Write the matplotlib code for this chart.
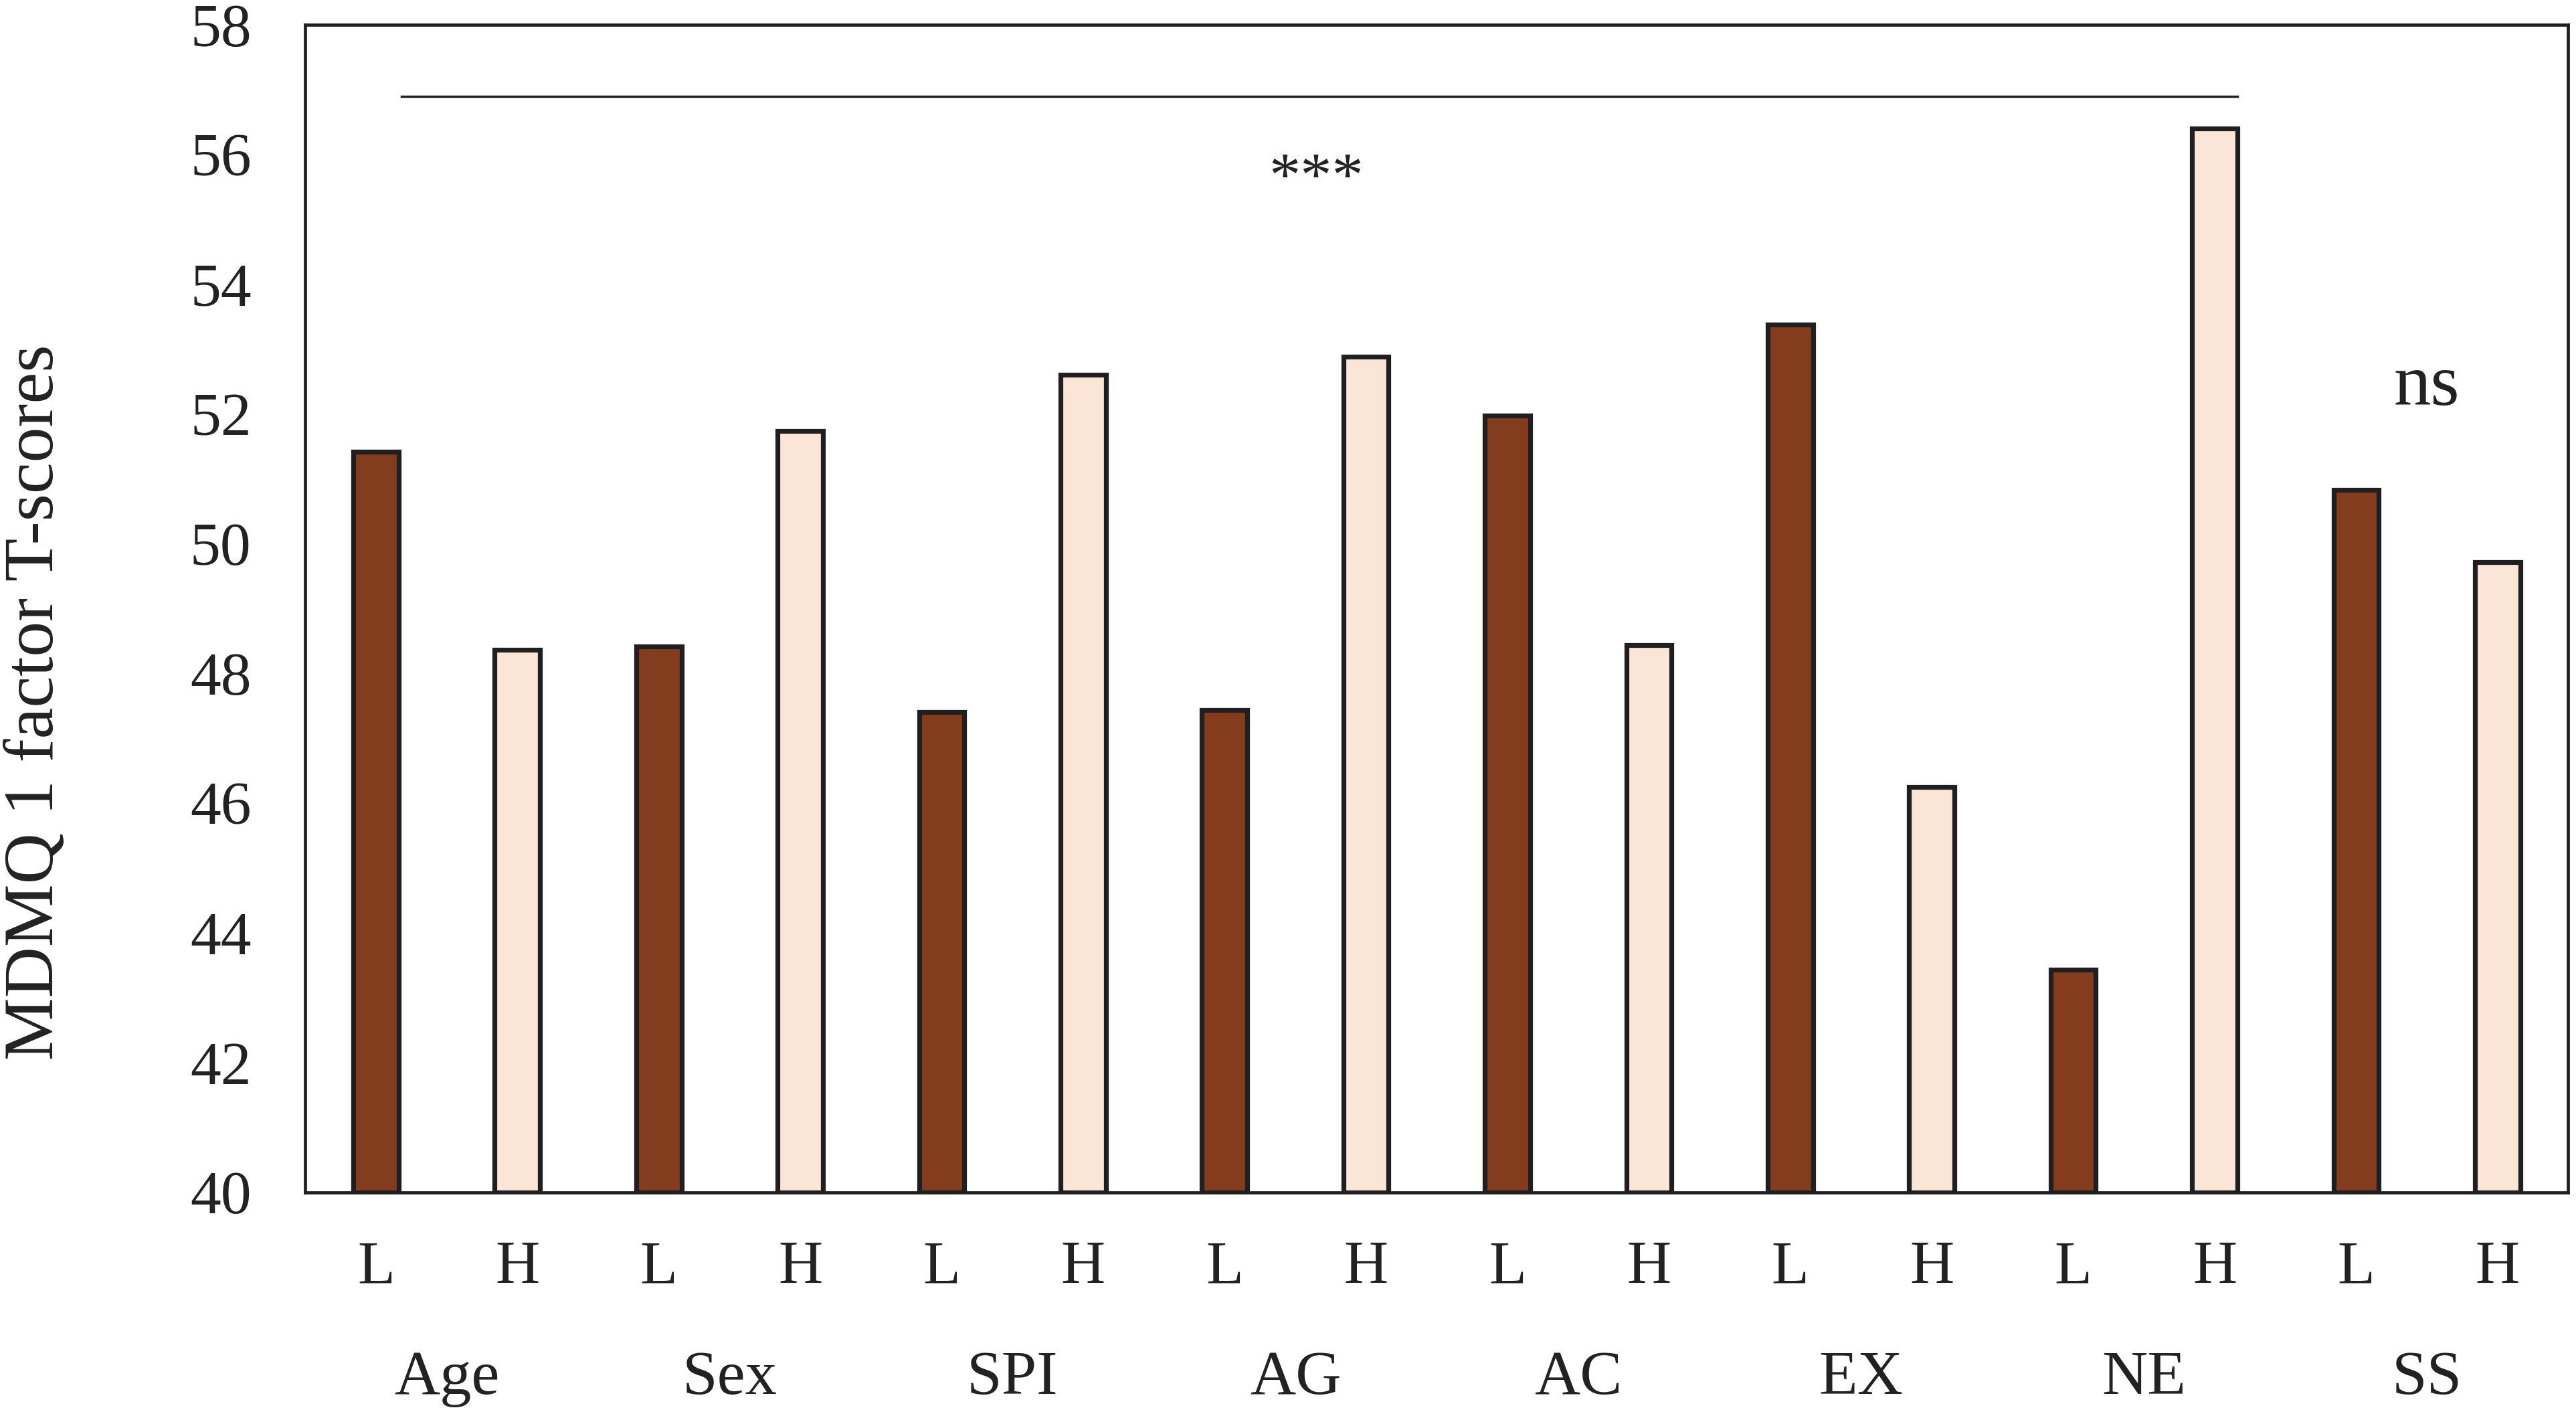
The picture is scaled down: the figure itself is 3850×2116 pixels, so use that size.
import matplotlib
matplotlib.use("Agg")
import matplotlib.pyplot as plt
import numpy as np

plt.rcParams['font.family'] = ['Liberation Serif', 'DejaVu Serif']

# data
groups = ['Age', 'Sex', 'SPI', 'AG', 'AC', 'EX', 'NE', 'SS']
low_vals = [51.42, 48.42, 47.4, 47.44, 51.97, 53.38, 43.43, 50.83]
high_vals = [48.36, 51.74, 52.6, 52.88, 48.44, 46.25, 56.4, 49.72]
level_labels = ['L', 'H']
sig_text = '***'
ns_text = 'ns'
sig_level = 56.9

dark = '#843C1E'
light = '#FBE5D6'
edge = '#1f1f1f'
txt = '#222222'

fig = plt.figure(figsize=(38.5, 21.16), dpi=100)
ax = fig.add_axes([0.1185, 0.158, 0.8785, 0.8245])

n = len(groups)
x_low = np.arange(n) * 2
x_high = x_low + 1
w = 0.32

ax.bar(x_low, np.array(low_vals) - 40, bottom=40, width=w, color=dark,
       edgecolor=edge, linewidth=5.2, zorder=3)
ax.bar(x_high, np.array(high_vals) - 40, bottom=40, width=w, color=light,
       edgecolor=edge, linewidth=5.2, zorder=3)

ax.set_xlim(-0.5, 2 * n - 0.5)
ax.set_ylim(40, 58)
ax.set_yticks(np.arange(40, 59, 2))
ax.set_xticks([])
ax.tick_params(axis='both', length=0, labelsize=66, colors=txt)
ax.tick_params(axis='y', pad=58)

for s in ax.spines.values():
    s.set_linewidth(3.4)
    s.set_color(edge)
    s.set_zorder(4)

# L / H under each bar, group names under each pair
xt = ax.get_xaxis_transform()
for i, g in enumerate(groups):
    ax.text(x_low[i], -0.0776, level_labels[0], transform=xt,
            ha='center', va='baseline', fontsize=66, color=txt)
    ax.text(x_high[i], -0.0776, level_labels[1], transform=xt,
            ha='center', va='baseline', fontsize=66, color=txt)
    ax.text(x_low[i] + 0.5, -0.1727, g, transform=xt,
            ha='center', va='baseline', fontsize=68, color=txt)

# significance bar
ax.plot([x_low[0] + w / 2 + 0.02, x_high[6] + w / 2], [sig_level, sig_level],
        color=edge, linewidth=2.5, zorder=4)
ax.text(6.65, 55.6, sig_text, ha='center', va='center', fontsize=68,
        color=txt)
ax.text(14.5, 52.14, ns_text, ha='center', va='baseline', fontsize=80,
        color=txt)

fig.text(54 / 3850, 0.504, 'MDMQ 1 factor T-scores', rotation=90,
         ha='center', va='center', fontsize=76, color=txt)

fig.savefig('out.png', dpi=100)
